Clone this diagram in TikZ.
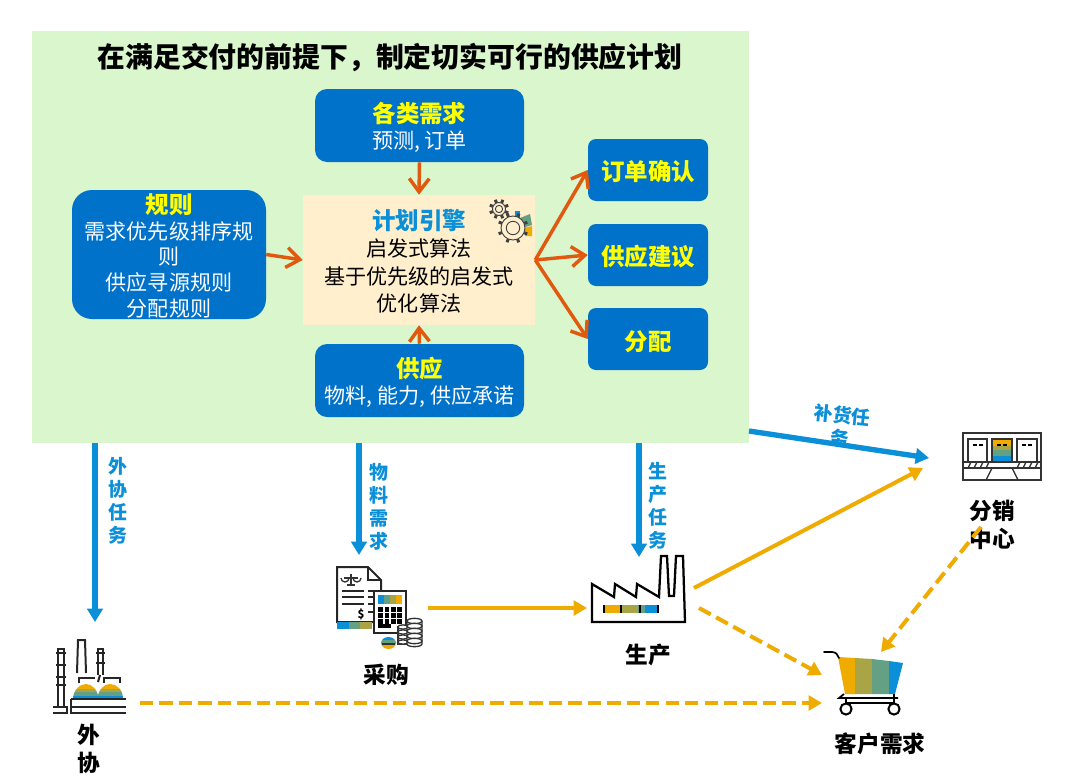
\documentclass[tikz,border=0pt]{standalone}
\usepackage{fontspec}
\setmainfont{Noto Sans CJK SC}
\usetikzlibrary{arrows.meta}
\definecolor{bggreen}{HTML}{DAF6CC}
\definecolor{boxblue}{HTML}{0072CA}
\definecolor{cream}{HTML}{FFEFCD}
\definecolor{orangearr}{HTML}{E1580F}
\definecolor{bluearr}{HTML}{0A8FD8}
\definecolor{gold}{HTML}{F0AB00}
\definecolor{olive}{HTML}{A9A546}
\definecolor{sage}{HTML}{64A083}
\definecolor{titleyellow}{HTML}{FFFF00}
\tikzset{
  x=0.75pt,y=-0.75pt,
  box/.style={fill=boxblue,text=white,rounded corners=9pt,inner sep=0pt,align=center,font=\fontsize{15.8}{19.5}\selectfont},
  side/.style={box,minimum width=90pt,minimum height=46.5pt,rounded corners=6pt,text=titleyellow,font=\fontsize{17.6}{20}\selectfont\bfseries},
  orangeline/.style={draw=orangearr,line width=2.6pt,-{Straight Barb[length=10pt,width=15pt,line width=2.6pt]}},
  bluetask/.style={draw=bluearr,line width=4pt,-{Triangle[length=10pt,width=11.5pt]}},
  goldline/.style={draw=gold,line width=3pt,-{Triangle[length=10pt,width=11pt]}},
  golddash/.style={goldline,dash pattern=on 10pt off 4.6pt},
  tasklabel/.style={text=bluearr,align=center,inner sep=0pt,font=\fontsize{14.2}{17.2}\selectfont\bfseries},
  caption/.style={text=black,align=center,inner sep=0pt,font=\fontsize{17}{20.5}\selectfont\bfseries},
  icon/.style={draw=black!85,line width=1.5pt},
  thin icon/.style={draw=black!80,line width=1pt},
}
\newcommand{\ygold}{\textcolor{titleyellow}}
\newcommand{\dn}{\rule{0pt}{18.5pt}}
\newcommand{\gearshape}[3]{% x y r
  \foreach \a in {0,45,...,315}{\draw[draw=black!75,line width=2.2pt] (#1,#2) ++(\a+22:#3*0.75pt) -- ++(\a+22:2.6pt);}
  \draw[draw=black!75,line width=.7pt,fill=cream] (#1,#2) circle[radius=#3*0.75pt];
  \draw[draw=black!75,line width=.7pt,fill=cream] (#1,#2) circle[radius=#3*0.42pt];
}
\begin{document}
\begin{tikzpicture}
\useasboundingbox (0,0) rectangle (1075,782);
\fill[white] (0,0) rectangle (1075,782);
\node[fill=bggreen,minimum width=537.75pt,minimum height=309pt,inner sep=0pt] (panel) at (390.5,237) {};
\node[inner sep=0pt,font=\fontsize{20.9}{24}\selectfont\bfseries] (title) at (390,58) {在满足交付的前提下，制定切实可行的供应计划};

\node[box,minimum width=156.75pt,minimum height=54.75pt] (demand) at (419.5,125.5)
  {\dn\ygold{\fontsize{17.6}{19.5}\selectfont\bfseries 各类需求}\\预测, 订单};
\node[box,minimum width=145.5pt,minimum height=96.75pt,rounded corners=15pt,font=\fontsize{15.8}{19.3}\selectfont] (rules) at (169,254.5)
  {\rule{0pt}{17pt}\ygold{\fontsize{17.6}{19.3}\selectfont\bfseries 规则}\\需求优先级排序规\\则\\供应寻源规则\\分配规则};
\node[fill=cream,minimum width=174pt,minimum height=97.5pt,inner sep=0pt,align=center,font=\fontsize{15.8}{20.4}\selectfont] (engine) at (419,260)
  {\rule{0pt}{17pt}\textcolor{bluearr}{\fontsize{17.6}{20.4}\selectfont\bfseries 计划引擎}\\启发式算法\\基于优先级的启发式\\优化算法};
\node[box,minimum width=156.75pt,minimum height=54.75pt] (supply) at (419.5,380.5)
  {\dn\ygold{\fontsize{17.6}{19.5}\selectfont\bfseries 供应}\\物料, 能力, 供应承诺};
\node[side] (confirm) at (648,170) {\rule{0pt}{17pt}订单确认};
\node[side] (advise) at (648,255) {\rule{0pt}{17pt}供应建议};
\node[side] (alloc) at (648,339) {\dn 分配};

% gears
\fill[bluearr] (515,211) rectangle (520,222);
\fill[sage] (520,218) -- (530,214) -- (532,225) -- (522,228) -- cycle;
\fill[gold] (524,228) -- (532,226) -- (532,236) -- (525,236) -- cycle;
\gearshape{499}{209}{6.5}
\gearshape{513}{228}{12}

\draw[orangeline] (demand.south) -- (engine.north);
\draw[orangeline] (rules.east) -- (engine.west);
\draw[orangeline] (supply.north) -- (engine.south);
\draw[orangeline] (engine.east) -- (confirm.west);
\draw[orangeline] (engine.east) -- (advise.west);
\draw[orangeline] (engine.east) -- (alloc.west);

% free-standing ends of the task arrows
\coordinate (tOut) at (95,443);
\coordinate (tMat) at (359,443);
\coordinate (tPro) at (639,443);
\coordinate (tRep) at (749,431);
\coordinate (hOut) at (95,622);
\coordinate (hMat) at (359,555);
\coordinate (hPro) at (639,557);
\coordinate (dcIn) at (929,458);
\coordinate (dcIn2) at (923,468);
\coordinate (buyOut) at (428,608);
\coordinate (facIn) at (587,608);
\coordinate (facOut) at (694,588);
\coordinate (facOut2) at (699,608);
\coordinate (cartIn) at (822,675);
\coordinate (cartIn2) at (822,703);
\coordinate (subOut) at (140,703);
\coordinate (dcOut) at (981,527);
\coordinate (cartIn3) at (881,652);

% outsource icon
\begin{scope}
  \clip (73,699) .. controls (73,690) and (80,684) .. (86,684) .. controls (92,684) and (97,690) .. (98,695) .. controls (99,690) and (104,684) .. (110,684) .. controls (117,684) and (123,690) .. (123,699) -- cycle;
  \fill[gold] (70,682) rectangle (126,689);
  \fill[olive] (70,689) rectangle (126,692);
  \fill[sage] (70,692) rectangle (126,696);
  \fill[bluearr] (70,696) rectangle (126,700);
\end{scope}
\draw[icon] (58,707) -- (58,649) -- (64,649) -- (64,707);
\foreach \yy in {653,665,677,685}{\draw[icon] (56,\yy) -- (66,\yy);}
\draw[icon] (53,707) -- (67,707) -- (67,713) -- (53,713);
\draw[icon] (79,683) -- (79,678) -- (95,678) (104,683) -- (104,678) -- (120,678) -- (120,683);
\draw[icon] (77,673) -- (78,640) -- (85,640) -- (86,673);
\draw[icon] (98,675) -- (98,649) -- (103,649) -- (103,675);
\foreach \yy in {653,663}{\draw[icon] (96,\yy) -- (105,\yy);}
\draw[icon] (100,675) -- (98,682);
\draw[icon] (71,699) -- (126,699) (71,699) -- (71,707) -- (126,707);
\draw[icon] (71,707) -- (71,713) -- (126,713);

% procurement icon
\draw[icon] (373,622) -- (337,622) -- (337,567) -- (368,567) -- (381,580) -- (381,591);
\draw[icon] (368,567) -- (368,580) -- (381,580);
\fill[bluearr] (337,622) rectangle (349,629);
\fill[sage] (349,622) rectangle (360,629);
\fill[olive] (360,622) rectangle (372,629);
\draw[thin icon] (344,578) -- (358,578) (351,574) -- (351,584) (347,585) -- (355,585);
\draw[thin icon] (341,578) arc[start angle=180,end angle=360,x radius=3pt,y radius=3pt];
\draw[thin icon] (353,578) arc[start angle=180,end angle=360,x radius=3pt,y radius=3pt];
\foreach \yy in {591,597,604}{\draw[icon] (342,\yy) -- (364,\yy) (368,\yy) -- (373,\yy);}
\draw[icon] (368,612) -- (373,612);
\node[inner sep=0pt,font=\fontsize{8.5}{8.5}\selectfont\bfseries] (dollar) at (361,614) {\$};
\draw[icon,fill=white] (374,591) rectangle (406,633);
\fill[bluearr] (378,595) rectangle (384,604);
\fill[sage] (384,595) rectangle (390,604);
\fill[olive] (390,595) rectangle (396,604);
\fill[gold] (396,595) rectangle (402,604);
\foreach \xx in {378,384.5,391,397}{\foreach \yy in {607,613,619}{\fill[black] (\xx,\yy) rectangle ++(3.6pt,-3.6pt);}}
\fill[black] (378,628) rectangle (391,624);
\draw[thin icon,fill=white] (398,627) rectangle (408,644);
\foreach \yy in {627,632,637,642}{\draw[thin icon,fill=white] (403,\yy) ellipse[x radius=4pt,y radius=1.6pt];}
\draw[thin icon,fill=white] (407,621) -- (407,644) arc[start angle=180,end angle=360,x radius=5.6pt,y radius=2pt] -- (422,621);
\foreach \yy in {621,626,631,636,641}{\draw[thin icon,fill=white] (414.5,\yy) ellipse[x radius=5.6pt,y radius=2pt];}
\begin{scope}
  \clip (388.5,643) ellipse[x radius=5.6pt,y radius=4.5pt];
  \fill[bluearr] (380,636) rectangle (397,640);
  \fill[sage] (380,640) rectangle (397,643);
  \fill[olive] (380,643) rectangle (397,645);
  \fill[gold] (380,645) rectangle (397,650);
\end{scope}
\draw[thin icon] (382,644) -- (395,644);

% factory icon
\draw[draw=black,line width=1.7pt,line join=miter] (592,622) -- (592,584) -- (614,597) -- (615,584) -- (636,597) -- (637,584) -- (659,597) -- (661,556) -- (667,556) -- (669,596) -- (674,596) -- (676,556) -- (683,556) -- (685,622) -- cycle;
\fill[gold] (603,605) rectangle (622,613);
\fill[olive] (622,605) rectangle (638,613);
\fill[sage] (638,605) rectangle (645,613);
\fill[bluearr] (645,605) rectangle (658,613);
\foreach \xx in {604,621,640,658}{\draw[black,line width=1.1pt] (\xx,605) -- (\xx,613);}

% distribution centre icon
\draw[thin icon,line width=1.2pt] (963,433) rectangle (1041,480);
\fill[gold] (992,440) rectangle (1012,446);
\fill[olive] (992,446) rectangle (1012,450);
\fill[sage] (992,450) rectangle (1012,456);
\fill[bluearr] (992,456) rectangle (1012,462);
\draw[thin icon] (968,462) -- (968,439) -- (987,439) -- (987,462);
\draw[thin icon] (1017,462) -- (1017,439) -- (1037,439) -- (1037,462);
\draw[thin icon] (992,462) -- (992,439) -- (1012,439) -- (1012,462);
\draw[black,line width=.9pt] (973,445) -- (977,445) (979,445) -- (983,445) (997,445) -- (1001,445) (1003,445) -- (1007,445) (1022,445) -- (1026,445) (1028,445) -- (1032,445);
\draw[thin icon] (963,462) -- (1041,462) (963,468) -- (1041,468);
\foreach \xx in {968,974,980,986,1017,1023,1029,1035}{\draw[thin icon] (\xx,468) -- (\xx+3,462);}
\draw[thin icon] (992,468) -- (986,480) (1012,468) -- (1018,480);
\draw[thin icon] (992,468) -- (1012,468);

% cart icon
\fill[gold] (838,657) -- (855,658) -- (855,694) -- (845,694) -- cycle;
\fill[olive] (855,658) -- (872,659) -- (872,694) -- (855,694) -- cycle;
\fill[sage] (872,659) -- (889,661) -- (889,694) -- (872,694) -- cycle;
\fill[bluearr] (889,661) -- (903,663) -- (895,694) -- (889,694) -- cycle;
\draw[black,line width=1.3pt,line cap=round] (824,652) -- (832,652) .. controls (836,652) and (838,655) .. (839,658);
\draw[black,line width=1.3pt] (844,694) -- (839,698) -- (898,698) (846,698) -- (846,703) (894,694) -- (894,703) (846,703) -- (894,703);
\draw[black,line width=1.5pt,fill=white] (846,709) circle[radius=4.2pt];
\draw[black,line width=1.5pt,fill=white] (894,709) circle[radius=4.2pt];

% labels of the nodes
\node[caption] (lsub) at (89,749) {外\\协};
\node[caption] (lbuy) at (386,675) {采购};
\node[caption] (lfac) at (648,655) {生产};
\node[caption] (ldc) at (992,525) {分销\\中心};
\node[caption] (lcart) at (880,744) {客户需求};

\node[tasklabel] (l1) at (118,501) {外\\协\\任\\务};
\node[tasklabel] (l2) at (379,507) {物\\料\\需\\求};
\node[tasklabel] (l3) at (658,506) {生\\产\\任\\务};
\node[tasklabel,rotate=-6] (l4) at (841,427) {补货任\\务};

% connectors
\draw[bluetask] (tOut) -- (hOut);
\draw[bluetask] (tMat) -- (hMat);
\draw[bluetask] (tPro) -- (hPro);
\draw[bluetask] (tRep) -- (dcIn);
\draw[goldline] (buyOut) -- (facIn);
\draw[goldline] (facOut) -- (dcIn2);
\draw[golddash] (facOut2) -- (cartIn);
\draw[golddash] (subOut) -- (cartIn2);
\draw[golddash] (dcOut) -- (cartIn3);
\end{tikzpicture}
\end{document}
